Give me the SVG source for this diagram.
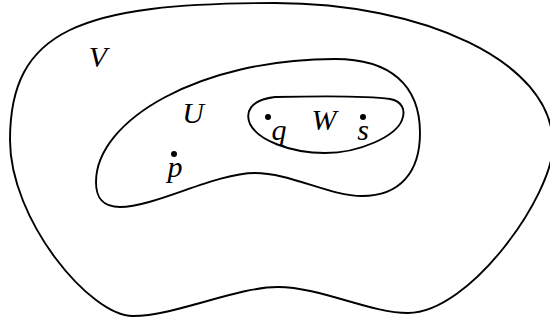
<svg xmlns="http://www.w3.org/2000/svg" width="550" height="323" viewBox="0 0 550 323">
<style>
.region{fill:none;stroke:#000;stroke-width:1.9;stroke-linejoin:round}
.pt{fill:#000}
.lbl{font-family:"Liberation Serif","DejaVu Serif",serif;font-style:italic;font-size:30px;fill:#000;text-anchor:middle}
</style>
<rect width="550" height="323" fill="#fff"/>
<g id="V">
<path class="region" d="M275,3 C420,3 553,60 553,145 C553,195 470,313 408,313 C370,313 320,287 278,287 C236,287 175,316 133,316 C90,316 10,220 10,140 C10,30 80,3 275,3 Z"/>
<text class="lbl" x="98" y="67">V</text>
</g>
<g id="U">
<path class="region" d="M335,59 C390,59 420,85 420,133 C420,172 400,196 362,196 C330,196 290,173 255,173 C215,173 155,207 120,207 C100,207 96,195 96,182 C96,120 200,59 335,59 Z"/>
<text class="lbl" x="193" y="123">U</text>
</g>
<g id="W">
<path class="region" d="M275,97 C320,96 370,96 390,99 C402,101 406,110 402,120 C396,136 360,153 325,153 C290,153 258,140 250,124 C245,112 250,100 275,97 Z"/>
<text class="lbl" x="324" y="130">W</text>
</g>
<g id="p">
<circle class="pt" cx="174" cy="154" r="3"/>
<text class="lbl" x="175" y="177">p</text>
</g>
<g id="q">
<circle class="pt" cx="268" cy="117" r="3"/>
<text class="lbl" x="279" y="140">q</text>
</g>
<g id="s">
<circle class="pt" cx="363" cy="117" r="3"/>
<text class="lbl" x="363" y="140">s</text>
</g>
<g id="connectors"/>
</svg>
